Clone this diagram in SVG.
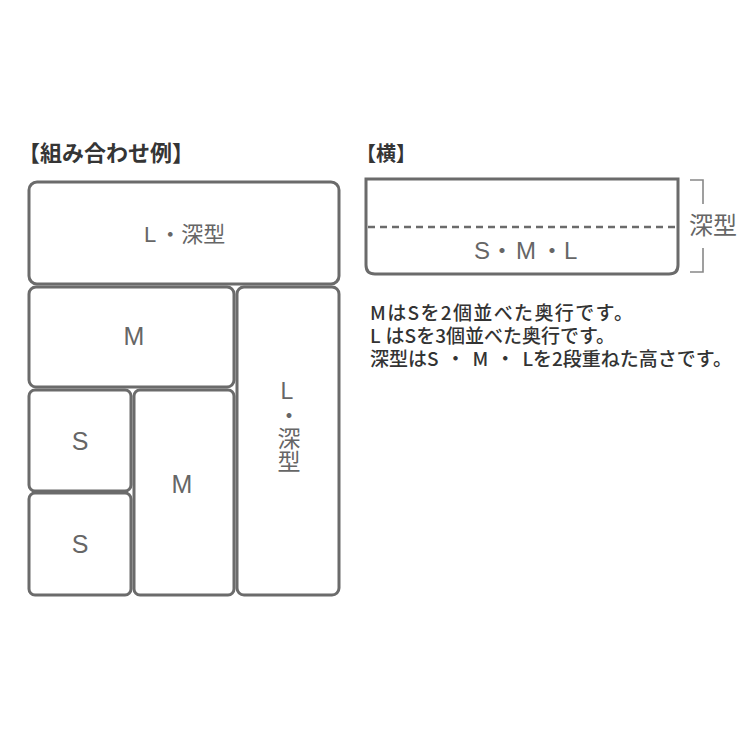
<svg xmlns="http://www.w3.org/2000/svg" width="740" height="740" viewBox="0 0 740 740">
<style>
.box{fill:#fff;stroke:#6b6b6b;stroke-width:3}
.lbl{font-family:"Liberation Sans","Noto Sans CJK JP",sans-serif;font-size:25px;fill:#666;text-anchor:middle}
.vl{font-family:"Liberation Sans","Noto Sans CJK JP",sans-serif;font-size:23px;fill:#666;writing-mode:vertical-rl;text-orientation:upright}
.jp{font-family:"Liberation Sans","Noto Sans CJK JP",sans-serif;fill:#666}
.ttl{font-family:"Noto Sans CJK JP",sans-serif;font-weight:bold;fill:#353535}
.note{font-family:"Noto Sans CJK JP",sans-serif;font-size:19px;font-weight:500;fill:#333}
</style>
<rect width="740" height="740" fill="#fff"/>
<text class="ttl" x="18" y="161" font-size="22">【組み合わせ例】</text>
<text class="ttl" x="356" y="161" font-size="20">【横】</text>
<g id="L-top"><rect class="box" x="29" y="182" width="310" height="102" rx="8"/><text class="jp" x="144" y="242" font-size="22">L<tspan dx="3">・</tspan><tspan dx="0">深型</tspan></text></g>
<g id="M-h"><rect class="box" x="29" y="287" width="205" height="100" rx="7"/><text class="lbl" x="134" y="345">M</text></g>
<g id="L-v"><rect class="box" x="237" y="287" width="102" height="308" rx="7"/>
<text class="vl" x="287" y="378">L・深型</text></g>
<g id="S1"><rect class="box" x="29" y="390" width="102" height="101" rx="6"/><text class="lbl" x="80" y="450">S</text></g>
<g id="S2"><rect class="box" x="29" y="493" width="102" height="102" rx="6"/><text class="lbl" x="80" y="553">S</text></g>
<g id="M-v"><rect class="box" x="134" y="390" width="100" height="205" rx="6"/><text class="lbl" x="182" y="493">M</text></g>
<g id="side">
<path class="box" d="M366,179 H678 V265 Q678,274 669,274 H375 Q366,274 366,265 Z"/>
<line x1="368" y1="227" x2="676" y2="227" stroke="#6b6b6b" stroke-width="2.5" stroke-dasharray="7,5"/>
<text class="jp" y="259" font-size="24"><tspan x="474">S</tspan><tspan x="490">・</tspan><tspan x="516">M</tspan><tspan x="540">・</tspan><tspan x="564">L</tspan></text>
</g>
<g id="bracket" fill="none" stroke="#888" stroke-width="1.6">
<polyline points="690,180 703,180 703,204"/>
<polyline points="703,248 703,272 690,272"/>
</g>
<text class="jp" x="689" y="234" font-size="24">深型</text>
<text class="note"><tspan x="370" y="320" textLength="263" lengthAdjust="spacing">MはSを2個並べた奥行です。</tspan><tspan x="370" y="343">L</tspan><tspan dx="5">はSを3個並べた奥行です。</tspan><tspan x="370" y="366">深型はS</tspan><tspan dx="7.5">・</tspan><tspan dx="7.5">M</tspan><tspan dx="7.5">・</tspan><tspan dx="7.5">L</tspan><tspan>を2段重ねた高さです。</tspan></text>
</svg>
